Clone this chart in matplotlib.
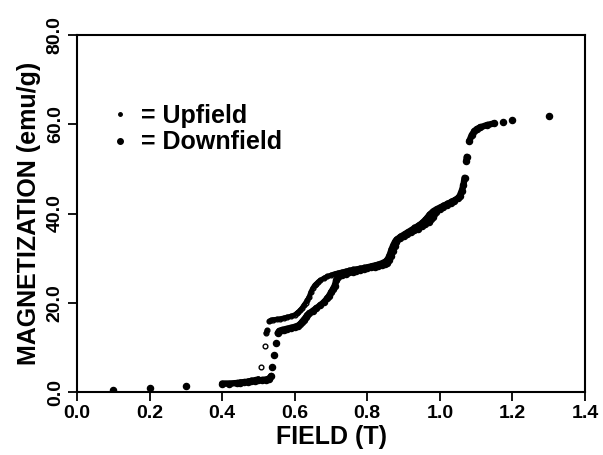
import numpy as np
import matplotlib
matplotlib.use("Agg")
import matplotlib.pyplot as plt
from matplotlib.lines import Line2D

# ---------------- data ----------------
# Upfield branch (small open dots)
up_x = [0.44, 0.45, 0.46, 0.47, 0.48, 0.49, 0.50, 0.508, 0.519, 0.521, 0.524, 0.53,
        0.535, 0.54, 0.55, 0.56, 0.57, 0.58, 0.59, 0.60, 0.605, 0.61, 0.615, 0.62,
        0.625, 0.630, 0.635, 0.640, 0.645, 0.65, 0.655, 0.66, 0.665, 0.67, 0.68,
        0.69, 0.70, 0.71, 0.72, 0.73, 0.74, 0.75, 0.76, 0.77, 0.78, 0.79, 0.80,
        0.81, 0.82, 0.83, 0.84, 0.85, 0.855, 0.86, 0.865, 0.87, 0.875, 0.88, 0.89,
        0.90, 0.91, 0.92, 0.93, 0.94, 0.95, 0.96, 0.965, 0.97, 0.975, 0.98, 0.99,
        1.00, 1.01, 1.02, 1.03, 1.04, 1.05]
up_y = [2.1, 2.2, 2.3, 2.4, 2.6, 2.8, 3.0, 5.7, 10.2, 13.2, 13.8, 15.8,
        16.1, 16.2, 16.3, 16.4, 16.6, 16.8, 17.0, 17.3, 17.6, 17.9, 18.3, 18.8,
        19.4, 20.0, 20.6, 21.4, 22.5, 23.3, 23.9, 24.3, 24.7, 25.0, 25.5,
        25.9, 26.2, 26.5, 26.7, 26.9, 27.1, 27.3, 27.5, 27.6, 27.8, 27.9, 28.1,
        28.3, 28.5, 28.7, 29.0, 29.4, 29.9, 30.8, 32.0, 33.0, 33.8, 34.3, 34.9,
        35.4, 35.9, 36.4, 36.9, 37.4, 38.0, 38.8, 39.3, 39.8, 40.2, 40.6, 41.1,
        41.5, 41.9, 42.3, 42.7, 43.1, 43.6]

# Downfield branch (larger filled dots)
down_x = [0.10, 0.20, 0.30, 0.40, 0.42,
          0.44, 0.45, 0.46, 0.47, 0.48, 0.49, 0.50, 0.51, 0.52, 0.53, 0.535,
          0.538, 0.543, 0.549, 0.553, 0.558, 0.565, 0.57, 0.58, 0.59, 0.60, 0.61,
          0.615, 0.62, 0.625, 0.63, 0.635, 0.64, 0.65, 0.66, 0.67, 0.68, 0.69,
          0.695, 0.70, 0.705, 0.71, 0.715, 0.72, 0.73, 0.74, 0.75, 0.76, 0.77,
          0.78, 0.79, 0.80, 0.81, 0.82, 0.83, 0.84, 0.85, 0.855, 0.86, 0.865,
          0.87, 0.875, 0.88, 0.89, 0.90, 0.91, 0.92, 0.93, 0.94, 0.95, 0.96,
          0.97, 0.975, 0.98, 0.985, 0.99, 1.00, 1.01, 1.02, 1.03, 1.04, 1.05,
          1.055, 1.06, 1.065, 1.068, 1.073, 1.074, 1.081, 1.088, 1.095, 1.101,
          1.111, 1.129, 1.150, 1.175, 1.200, 1.30]
down_y = [0.4, 0.9, 1.3, 1.9, 1.9,
          2.0, 2.1, 2.2, 2.3, 2.4, 2.5, 2.6, 2.7, 2.8, 3.0, 3.6,
          5.7, 8.4, 11.0, 13.2, 13.7, 13.9, 14.0, 14.2, 14.4, 14.6, 14.9,
          15.2, 15.7, 16.2, 16.7, 17.2, 17.6, 18.2, 18.8, 19.4, 20.1, 21.0,
          21.6, 22.3, 23.0, 23.8, 25.1, 25.8, 26.2, 26.5, 26.8, 27.0, 27.2,
          27.4, 27.6, 27.8, 28.0, 28.1, 28.3, 28.5, 28.7, 29.0, 29.6, 30.4,
          31.6, 32.8, 33.6, 34.4, 34.9, 35.3, 35.8, 36.2, 36.6, 37.1, 37.6,
          38.2, 38.7, 39.3, 39.9, 40.4, 41.0, 41.5, 42.0, 42.4, 42.9, 43.4,
          44.0, 45.0, 46.3, 48.0, 51.8, 52.7, 56.2, 57.6, 58.4, 58.9,
          59.3, 59.8, 60.2, 60.6, 61.0, 61.9]

x_ticks = [0.0, 0.2, 0.4, 0.6, 0.8, 1.0, 1.2, 1.4]
x_tick_labels = ["0.0", "0.2", "0.4", "0.6", "0.8", "1.0", "1.2", "1.4"]
y_ticks = [0, 20, 40, 60, 80]
y_tick_labels = ["0.0", "20.0", "40.0", "60.0", "80.0"]
legend_labels = ["= Upfield", "= Downfield"]

# ---------------- figure ----------------
plt.rcParams['font.family'] = ['Liberation Sans', 'DejaVu Sans']
plt.rcParams['font.weight'] = 'bold'

fig = plt.figure(figsize=(6.03, 4.55), dpi=100)
ax = fig.add_axes([77 / 603, 1 - 392 / 455, (585 - 77) / 603, (392 - 35) / 455])
ax.set_xlim(0, 1.4)
ax.set_ylim(0, 80)


def draw_branch(xs, ys, ms, mfc, gap_px):
    xs = np.asarray(xs, float)
    ys = np.asarray(ys, float)
    pts = ax.transData.transform(np.column_stack([xs, ys]))
    d = np.hypot(np.diff(pts[:, 0]), np.diff(pts[:, 1]))
    ax.plot(xs, ys, 'o', ls='none', ms=ms, mfc=mfc, mec='black', mew=1.0, zorder=3)
    # densely sampled runs merge into a continuous thick trace
    start = 0
    for i in range(len(d) + 1):
        if i == len(d) or d[i] > gap_px:
            if i - start >= 1:
                ax.plot(xs[start:i + 1], ys[start:i + 1], '-', color='black',
                        lw=ms * 1.05, solid_capstyle='round', zorder=4)
            start = i + 1


draw_branch(down_x, down_y, 4.4, 'black', 9)
draw_branch(up_x, up_y, 3.4, 'white', 9)

ax.set_xticks(x_ticks)
ax.set_xticklabels(x_tick_labels, fontsize=14, fontweight='bold')
ax.set_yticks(y_ticks)
ax.set_yticklabels(y_tick_labels, fontsize=14, fontweight='bold', rotation=90,
                   va='center', ha='right')

for s in ax.spines.values():
    s.set_linewidth(1.5)
ax.tick_params(axis='both', direction='out', length=6.5, width=1.3, pad=3,
               top=False, right=False)

ax.set_xlabel("FIELD (T)", fontsize=18, fontweight='bold', labelpad=2)
ax.set_ylabel("MAGNETIZATION (emu/g)", fontsize=18, fontweight='bold', labelpad=4)

handles = [Line2D([], [], ls='none', marker='o', ms=2.5, mfc='black', mec='black'),
           Line2D([], [], ls='none', marker='o', ms=4.0, mfc='black', mec='black')]
ax.legend(handles, legend_labels, loc='upper left', bbox_to_anchor=(0.05, 0.835),
          frameon=False, prop={'size': 18, 'weight': 'bold'}, handlelength=0.6,
          handletextpad=0.55, labelspacing=0.1, borderaxespad=0)

fig.savefig("out.png", dpi=100)
